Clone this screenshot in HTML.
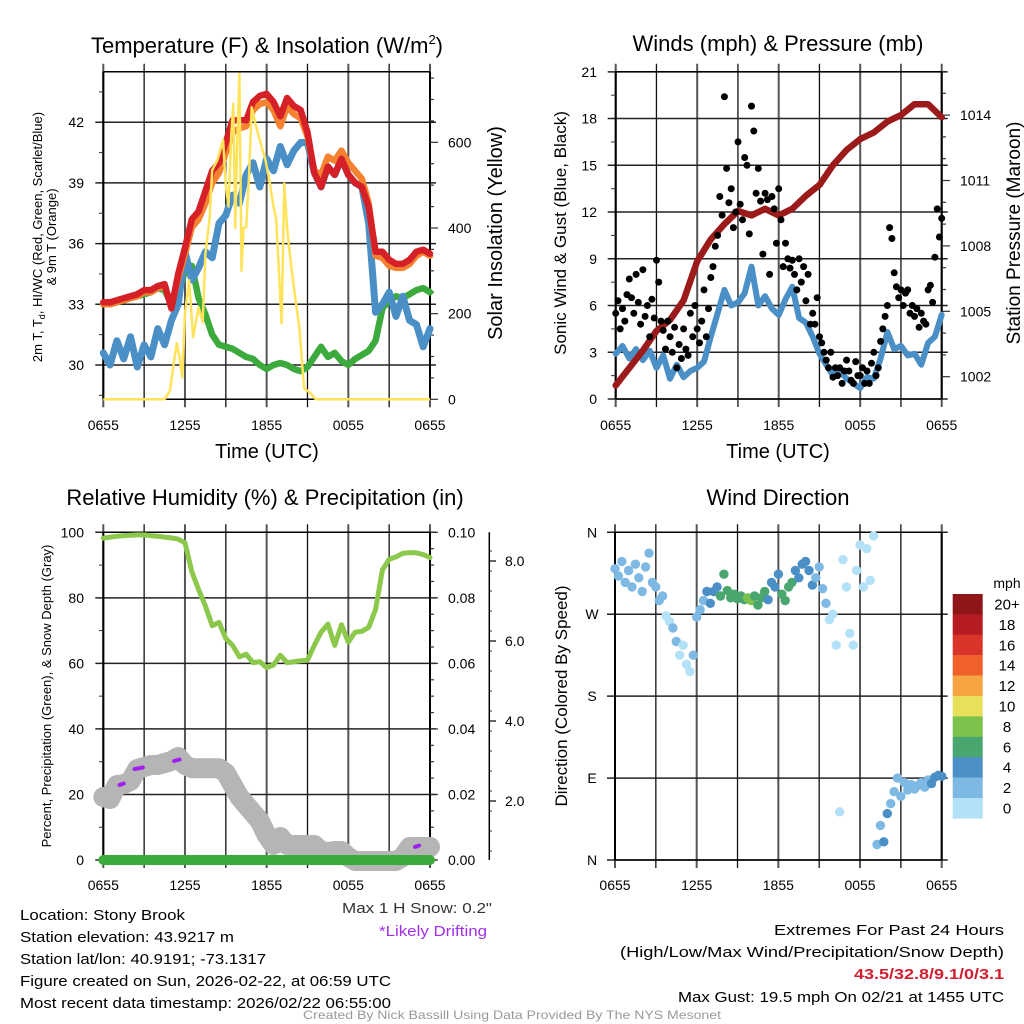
<!DOCTYPE html>
<html><head><meta charset="utf-8"><style>
html,body{margin:0;padding:0;background:#fff;}
svg{display:block;font-family:"Liberation Sans",sans-serif;}
</style></head><body>
<svg id="fig" width="1024" height="1024" viewBox="0 0 1024 1024" xmlns="http://www.w3.org/2000/svg">
<rect x="0" y="0" width="1024" height="1024" fill="#fff"/>
<g id="p1"></g>
<g id="p2"></g>
<g id="p3"></g>
<g id="p4"></g>
<g id="txt" font-size="14" fill="#000">
<text x="267" y="53" font-size="22" text-anchor="middle">Temperature (F) &amp; Insolation (W/m<tspan font-size="13" dy="-9">2</tspan><tspan dy="9">)</tspan></text>
<text x="778" y="51" font-size="22" text-anchor="middle">Winds (mph) &amp; Pressure (mb)</text>
<text x="265" y="505" font-size="22" text-anchor="middle">Relative Humidity (%) &amp; Precipitation (in)</text>
<text x="778" y="505" font-size="22" text-anchor="middle">Wind Direction</text>
<text transform="translate(42,237) rotate(-90)" font-size="13" text-anchor="middle">2m T, T<tspan font-size="9" dy="3">d</tspan><tspan dy="-3">, HI/WC (Red, Green, Scarlet/Blue)</tspan></text>
<text transform="translate(56,237) rotate(-90)" font-size="13" text-anchor="middle">&amp; 9m T (Orange)</text>
<text transform="translate(502,233) rotate(-90)" font-size="20" text-anchor="middle">Solar Insolation (Yellow)</text>
<text x="267" y="458" font-size="20" text-anchor="middle">Time (UTC)</text>
<text transform="translate(566,233) rotate(-90)" font-size="17" text-anchor="middle">Sonic Wind &amp; Gust (Blue, Black)</text>
<text transform="translate(1020,233) rotate(-90)" font-size="19" text-anchor="middle">Station Pressure (Maroon)</text>
<text x="778" y="458" font-size="20" text-anchor="middle">Time (UTC)</text>
<text transform="translate(51,696) rotate(-90)" font-size="13" text-anchor="middle">Percent, Precipitation (Green), &amp; Snow Depth (Gray)</text>
<text transform="translate(567,696) rotate(-90)" font-size="17" text-anchor="middle">Direction (Colored By Speed)</text>
<text x="1007" y="588" text-anchor="middle">mph</text>
<g font-size="15">
<text x="20" y="920" textLength="165" lengthAdjust="spacingAndGlyphs">Location: Stony Brook</text>
<text x="20" y="942" textLength="214" lengthAdjust="spacingAndGlyphs">Station elevation: 43.9217 m</text>
<text x="20" y="964" textLength="246" lengthAdjust="spacingAndGlyphs">Station lat/lon: 40.9191; -73.1317</text>
<text x="20" y="986" textLength="371" lengthAdjust="spacingAndGlyphs">Figure created on Sun, 2026-02-22, at 06:59 UTC</text>
<text x="20" y="1008" textLength="371" lengthAdjust="spacingAndGlyphs">Most recent data timestamp: 2026/02/22 06:55:00</text>
<text x="492" y="913" text-anchor="end" fill="#333" textLength="150" lengthAdjust="spacingAndGlyphs">Max 1 H Snow: 0.2"</text>
<text x="487" y="936" text-anchor="end" fill="#a030e8" textLength="108" lengthAdjust="spacingAndGlyphs">*Likely Drifting</text>
<text x="1004" y="935" text-anchor="end" textLength="230" lengthAdjust="spacingAndGlyphs">Extremes For Past 24 Hours</text>
<text x="1004" y="957" text-anchor="end" textLength="384" lengthAdjust="spacingAndGlyphs">(High/Low/Max Wind/Precipitation/Snow Depth)</text>
<text x="1004" y="979" text-anchor="end" fill="#d02030" font-weight="bold" textLength="150" lengthAdjust="spacingAndGlyphs">43.5/32.8/9.1/0/3.1</text>
<text x="1004" y="1002" text-anchor="end" textLength="326" lengthAdjust="spacingAndGlyphs">Max Gust: 19.5 mph On 02/21 at 1455 UTC</text>
</g>
<text x="512" y="1019" font-size="12" text-anchor="middle" fill="#999" textLength="418" lengthAdjust="spacingAndGlyphs">Created By Nick Bassill Using Data Provided By The NYS Mesonet</text>
</g>
</svg>
<script>
// ---------- DATA ----------
const timeLabels = ["0655","1255","1855","0055","0655"];
const tempRed = [33.1,33.1,33.2,33.3,33.4,33.5,33.7,33.7,33.9,34.0,32.8,34.5,35.8,37.2,37.6,38.6,39.6,40.0,41.0,42.1,42.1,42.1,43.0,43.3,43.4,43.0,42.3,43.2,42.8,42.6,41.5,39.5,38.8,39.8,39.4,40.2,39.4,39.0,38.8,37.8,35.6,35.6,35.2,35.0,35.0,35.2,35.6,35.7,35.5];
const tempOrange = [33.0,33.0,33.1,33.2,33.3,33.4,33.6,33.6,33.8,33.9,32.9,34.3,35.5,36.8,37.2,38.0,39.0,39.5,40.5,41.5,41.7,41.8,42.6,42.9,43.0,42.6,41.8,42.8,42.4,42.2,41.3,39.6,39.4,40.3,40.1,40.6,40.0,39.6,39.2,38.0,35.4,35.3,34.9,34.8,34.8,35.0,35.4,35.6,35.4];
const dewGreen = [33.0,33.0,33.1,33.2,33.3,33.4,33.5,33.6,33.8,33.7,33.0,33.6,34.6,34.9,33.3,32.5,31.5,31.0,30.9,30.8,30.6,30.4,30.3,30.0,29.8,30.0,30.1,30.0,29.8,29.7,29.9,30.4,30.9,30.4,30.6,30.2,30.0,30.3,30.5,30.7,31.2,32.8,33.2,33.4,33.3,33.5,33.7,33.8,33.6];
const windChillBlue = [30.6,30.0,31.2,30.3,31.4,29.9,31.0,30.4,31.8,31.0,32.2,33.0,35.6,34.2,34.8,35.6,35.3,37.0,37.4,38.4,38.0,39.4,40.0,38.8,40.2,39.6,40.8,39.9,40.6,41.0,41.0,39.5,38.8,39.8,39.4,40.2,39.4,39.0,38.8,37.0,32.6,33.0,33.6,32.4,33.4,32.2,32.0,30.9,31.8];
const solarHours = [0,4.5,4.9,5.2,5.4,5.6,5.8,6.0,6.3,6.6,7.0,7.3,7.5,7.8,8.0,8.4,8.8,9.0,9.2,9.4,9.55,9.7,9.8,10.0,10.15,10.3,10.5,10.7,10.9,11.2,11.5,11.9,12.2,12.5,12.7,12.9,13.1,13.3,13.5,13.7,14.0,14.4,14.75,15.2,15.6,24];
const solar = [0,0,20,90,131,100,51,200,278,145,215,180,340,420,535,560,605,500,450,620,690,400,558,760,300,400,402,520,682,640,605,560,511,450,420,300,177,504,400,340,260,168,26,15,0,0];
const tempTicks = [30,33,36,39,42];
const solarTicks = [0,200,400,600];
const windSpeed = [2.9,3.4,2.6,3.2,2.5,3.1,2.0,2.8,1.3,2.2,1.4,1.8,2.0,2.4,4.0,5.5,7.0,6.0,6.2,6.8,8.5,6.0,6.6,5.8,5.4,6.4,7.2,5.2,4.9,4.0,2.9,2.2,1.5,1.8,1.3,1.0,0.7,1.4,1.3,2.6,4.3,3.2,3.4,2.8,2.9,2.2,3.6,4.0,5.4];
const gusts = [5.5,6.3,4.5,5.8,5.0,6.7,7.7,6.5,5.5,8.0,6.2,4.8,8.3,5.3,6.0,4.0,6.4,5.2,8.9,7.5,5.0,4.4,3.2,5.0,4.0,3.0,4.6,2.0,3.5,2.6,4.5,3.2,2.8,5.5,4.0,6.0,4.5,3.6,5.0,7.0,4.0,5.8,7.8,8.5,9.8,10.5,13.0,11.8,19.4,14.8,12.6,13.5,11.0,12.0,16.5,12.5,11.5,15.5,15.0,10.6,18.8,17.2,13.2,14.8,12.7,9.3,13.2,12.8,8.0,13.0,12.2,10.0,13.5,11.5,8.5,10.0,9.0,8.4,8.9,8.0,7.0,9.0,7.5,8.5,6.3,8.0,4.8,5.5,4.8,6.5,4.0,3.6,3.0,2.5,2.0,3.0,1.4,2.0,1.5,2.0,1.0,1.8,2.5,1.8,1.2,1.0,2.4,1.5,1.5,2.0,1.0,1.8,1.0,2.3,3.0,1.5,2.0,3.7,4.5,5.3,6.0,11.0,10.3,8.1,7.2,6.5,7.0,6.0,6.8,7.0,5.5,6.0,5.3,5.8,4.6,5.5,5.0,4.8,7.0,7.3,6.2,9.1,12.2,10.4,11.6];
const pressure = [1001.6,1002.4,1003.2,1004.1,1004.6,1005.5,1007.3,1008.3,1009.0,1009.6,1009.4,1009.7,1009.4,1009.7,1010.3,1010.8,1011.7,1012.4,1012.9,1013.2,1013.7,1014.0,1014.5,1014.5,1013.9];
const windTicks = [0,3,6,9,12,15,18,21];
const pressureTicks = [1002,1005,1008,1011,1014];
const rh = [98.2,98.5,98.8,99.0,99.1,99.2,99.2,99.0,98.8,98.5,98.3,97.9,96.8,88.0,82.5,77.5,71.5,72.5,67.6,65.5,62.0,62.8,60.2,60.5,58.7,59.5,62.5,60.2,60.5,60.8,61.0,65.5,69.5,72.0,65.5,71.8,66.5,69.5,69.8,71.0,76.5,88.5,91.8,92.5,93.6,93.8,93.7,93.2,92.3];
const snowDepth = [2.1,2.05,2.4,2.42,2.5,2.8,2.85,2.9,2.9,2.95,3.0,3.1,2.9,2.82,2.82,2.82,2.82,2.82,2.7,2.4,2.1,1.9,1.7,1.5,1.15,0.9,1.1,0.9,0.9,0.9,0.9,0.9,0.75,0.72,0.75,0.75,0.6,0.5,0.5,0.5,0.5,0.5,0.5,0.5,0.6,0.85,0.85,0.85,0.85];
const precip = [0,0,0,0,0,0,0,0,0,0,0,0,0,0,0,0,0,0,0,0,0,0,0,0,0];
const driftStart = [1.2,2.3,5.2,22.9];
const driftEnd = [1.5,2.9,5.6,23.2];
const rhTicks = [0,20,40,60,80,100];
const precipTicks = ["0.00","0.02","0.04","0.06","0.08","0.10"];
const snowTicks = [2,4,6,8];
const direction = [320,312,328,305,318,300,325,310,295,322,337,305,300,285,290,268,262,255,240,225,236,215,207,225,267,275,285,295,282,295,300,290,314,296,288,292,287,290,286,288,285,290,280,288,295,286,305,300,314,292,285,300,305,318,310,325,328,318,302,310,322,298,282,264,270,236,53,330,300,249,236,318,346,300,342,307,356,17,38,20,51,62,75,90,70,85,77,83,78,82,85,80,88,84,91,93,92];
const dirLabels = ["N","E","S","W","N"];
const speedBins = ["20+","18","16","14","12","10","8","6","4","2","0"];
const binColors = ["#8e1518","#b71c22","#d9342a","#ef6129","#f5a642","#e6e05a","#7dc24c","#48a66e","#4a8fc6","#7db9e3","#b3e1f7"];

// ---------- SCALES ----------
const p1x = h => 103.3 + h*(430-103.3)/24;
const p1y = t => 365 - (t-30)*20.23;
const p1s = w => 399.3 - w*0.4283;
const p2x = h => 615.7 + h*(941.7-615.7)/24;
const p2w = w => 399 - w*15.58;
const p2p = p => 376.7 - (p-1002)*21.8;
const p3x = h => 103.3 + h*326.7/24;
const p3r = r => 860 - r*3.277;
const p3pr = v => 860 - v*3277;
const p3d = d => 881 - d*40;
const p4x = h => 615 + h*326.7/24;
const p4d = d => 860 - d/360*327.7;

const NS = 'http://www.w3.org/2000/svg';
function mk(tag, attrs, parent){
  const e = document.createElementNS(NS, tag);
  for (const k in attrs) e.setAttribute(k, attrs[k]);
  parent.appendChild(e);
  return e;
}
function pathFrom(xs, ys){
  let d = '';
  for (let i=0;i<xs.length;i++){ if (ys[i]==null) continue; d += (d?'L':'M') + xs[i].toFixed(1)+','+ys[i].toFixed(1); }
  return d;
}
function line(g, arr, step, fx, fy, color, w, name){
  const xs = arr.map((v,i)=>fx(i*step)), ys = arr.map(v=>fy(v));
  const el = mk('path', {d:pathFrom(xs,ys), fill:'none', stroke:color, 'stroke-width':w, 'stroke-linejoin':'round', 'stroke-linecap':'round'}, g);
  
  
  return el;
}
function seg(g, x1,y1,x2,y2,color,w,name){
  const el = mk('line',{x1:x1,y1:y1,x2:x2,y2:y2,stroke:color,'stroke-width':w},g);
  
  
  return el;
}
function txt(g, x, y, s, anchor, name, size){
  const el = mk('text',{x:x,y:y,'text-anchor':anchor||'middle','font-size':size||14},g);
  el.textContent = s;
  
  
  return el;
}
function grid(g, fx, left, right, top, bottom, hys){
  for (let k=0;k<=8;k++){
    const x = fx(k*3);
    seg(g, x, top-8, x, bottom+8, k%2===0 ? '#555' : '#111', k%2===0?2:1.3, 'grid-vertical');
  }
  hys.forEach(y=>seg(g, left-8, y, right+6, y, '#222', 1.5, 'grid-horizontal'));
  seg(g, left, top, right, top, '#000', 1.5, 'plot-top-border');
  seg(g, left, top, left, bottom, '#000', 2, 'plot-left-border');
  seg(g, right, top, right, bottom, '#000', 2, 'plot-right-border');
  seg(g, left, bottom, right, bottom, '#000', 1.5, 'plot-bottom-border');
}
function xlabels(g, fx, y){
  timeLabels.forEach((s,k)=>txt(g, fx(k*6), y, s, 'middle', 'x-tick-label', 14));
}

// ---------- PANEL 1 ----------
const g1 = document.getElementById('p1');
grid(g1, p1x, 103.3, 430, 71.7, 399.3, tempTicks.map(p1y));
for (let t=28.5;t<=44;t+=1.5){ if (tempTicks.indexOf(t)<0) seg(g1, 99, p1y(t), 103.3, p1y(t), '#333', 1, 'temp-minor-tick'); }
for (let w=0; w<=750; w+=50){ const y=p1s(w); if (y<71) continue; seg(g1, 430, y, solarTicks.indexOf(w)>=0?438:434, y, '#333', 1.2, 'solar-tick'); }
tempTicks.forEach(t=>txt(g1, 84, p1y(t)+5, String(t), 'end', 'temp-tick-label'));
solarTicks.forEach(w=>txt(g1, 448, p1s(w)+5, String(w), 'start', 'solar-tick-label'));
xlabels(g1, p1x, 430);
line(g1, dewGreen, 0.5, p1x, p1y, '#3daa3d', 6.5, 'dewpoint-line');
line(g1, windChillBlue, 0.5, p1x, p1y, '#4a8fc6', 7, 'wind-chill-line');
line(g1, tempOrange, 0.5, p1x, p1y, '#f58231', 6.5, 'temp-9m-line');
line(g1, tempRed, 0.5, p1x, p1y, '#d62027', 6.5, 'temp-2m-line');
{
  const xs = solarHours.map(p1x), ys = solar.map(p1s);
  const el = mk('path',{d:pathFrom(xs,ys),fill:'none',stroke:'#ffe35a','stroke-width':2.5,'stroke-linejoin':'round'},g1);
  
  
}

// ---------- PANEL 2 ----------
const g2 = document.getElementById('p2');
grid(g2, p2x, 615.7, 941.7, 71.7, 399, windTicks.map(p2w));
for (let p=1002; p<=1016; p++){ const y=p2p(p); if (y<71) continue; seg(g2, 941.7, y, pressureTicks.indexOf(p)>=0?950:946, y, '#333', 1.2, 'pressure-tick'); }
for (let w=1.5; w<21; w+=3) seg(g2, 611, p2w(w), 615.7, p2w(w), '#333', 1, 'wind-minor-tick');
windTicks.forEach(w=>txt(g2, 597, p2w(w)+5, String(w), 'end', 'wind-tick-label'));
pressureTicks.forEach(p=>txt(g2, 960, p2p(p)+5, String(p), 'start', 'pressure-tick-label'));
xlabels(g2, p2x, 430);
line(g2, windSpeed, 0.5, p2x, p2w, '#4a8fc6', 6, 'sonic-wind-line');
line(g2, pressure, 1, p2x, p2p, '#9b1b1b', 6.5, 'pressure-line');
gusts.forEach((v,i)=>{
  const c = mk('circle',{cx:p2x(i/6).toFixed(1), cy:p2w(v).toFixed(1), r:3.5, fill:'#000'}, g2);
  
  
});

// ---------- PANEL 3 ----------
const g3 = document.getElementById('p3');
grid(g3, p3x, 103.3, 430, 532.3, 860, rhTicks.map(p3r));
for (let r=10;r<100;r+=20) seg(g3, 99, p3r(r), 103.3, p3r(r), '#333', 1, 'rh-minor-tick');
for (let k=0;k<=20;k++){ const v=k*0.005; seg(g3, 430, p3pr(v), k%4===0?438:434, p3pr(v), '#333', 1.2, 'precip-tick'); }
rhTicks.forEach(r=>txt(g3, 84, p3r(r)+5, String(r), 'end', 'rh-tick-label'));
precipTicks.forEach((s,k)=>txt(g3, 448, p3pr(k*0.02)+5, s, 'start', 'precip-tick-label'));
seg(g3, 489.3, 532.3, 489.3, 860, '#000', 1.5, 'snow-axis');
for (let d=0.75; d<=8.25; d+=0.5){ seg(g3, 489.3, p3d(d), snowTicks.indexOf(d)>=0?496:492, p3d(d), '#333', 1, 'snow-tick'); }
snowTicks.forEach(d=>{ seg(g3, 489.3, p3d(d), 496, p3d(d), '#000', 1.2, 'snow-major-tick'); txt(g3, 505, p3d(d)+5, d.toFixed(1), 'start', 'snow-tick-label'); });
xlabels(g3, p3x, 890);
line(g3, snowDepth, 0.5, p3x, p3d, '#b5b5b5', 20, 'snow-depth-line');
driftStart.forEach((s,k)=>{
  const e = driftEnd[k];
  const i0 = Math.round(s*2), v0 = snowDepth[i0];
  const el = mk('path',{d:'M'+p3x(s).toFixed(1)+','+p3d(v0).toFixed(1)+'L'+p3x(e).toFixed(1)+','+(p3d(v0)-1.5).toFixed(1),stroke:'#a020f0','stroke-width':4,'stroke-linecap':'round',fill:'none'},g3);
  
  
});
line(g3, rh, 0.5, p3x, p3r, '#8cc84b', 5, 'relative-humidity-line');
{
  const el = mk('path',{d:pathFrom(precip.map((v,i)=>p3x(i)), precip.map(p3pr)),fill:'none',stroke:'#3daa3d','stroke-width':10,'stroke-linecap':'round'},g3);
  
  
}

// ---------- PANEL 4 ----------
const g4 = document.getElementById('p4');
grid(g4, p4x, 615, 941.7, 532.3, 860, [0,90,180,270,360].map(p4d));
dirLabels.forEach((s,k)=>txt(g4, 592, p4d(k*90)+5, s, 'middle', 'direction-tick-label'));
xlabels(g4, p4x, 890);
function speedColor(s){ const b = Math.min(10, Math.floor(s/2)); return binColors[10-b]; }
direction.forEach((d,i)=>{
  const h = i/4;
  const s = windSpeed[Math.min(48, Math.round(h*2))];
  const c = mk('circle',{cx:p4x(h).toFixed(1), cy:p4d(d).toFixed(1), r:4.7, fill:speedColor(s)}, g4);
  
  
});
speedBins.forEach((s,k)=>{
  const y = 594 + k*20.4;
  const r = mk('rect',{x:952.7, y:y.toFixed(1), width:30, height:20.6, fill:binColors[k]}, g4);
  
  
  txt(g4, 1007, y+15.5, s, 'middle', 'colorbar-label', 15);
});
</script>
</body></html>
